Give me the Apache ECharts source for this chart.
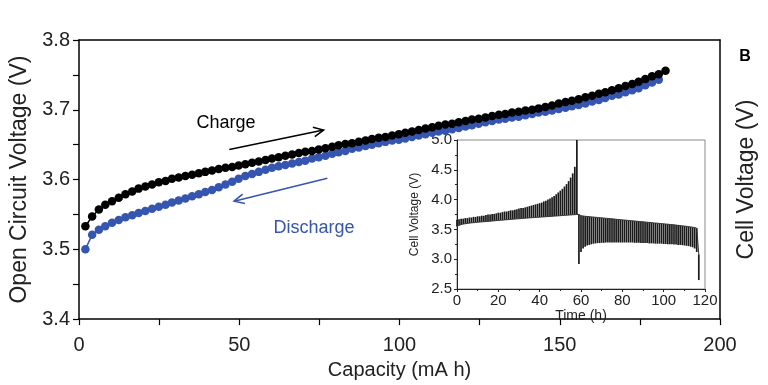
<!DOCTYPE html>
<html><head><meta charset="utf-8">
<script src="https://cdn.jsdelivr.net/npm/echarts@6/dist/echarts.min.js"></script>
<style>html,body{margin:0;padding:0;background:#fff}#c{width:768px;height:385px}</style>
</head><body><div id="c"></div>
<script>
// ---- main plot data ----
const capacity = [2.0,4.1,6.2,8.2,10.3,12.4,14.5,16.6,18.6,20.7,22.8,24.9,27.0,29.0,31.1,33.2,35.3,37.4,39.4,41.5,43.6,45.7,47.8,49.8,51.9,54.0,56.1,58.2,60.2,62.3,64.4,66.5,68.6,70.6,72.7,74.8,76.9,79.0,81.0,83.1,85.2,87.3,89.4,91.4,93.5,95.6,97.7,99.8,101.8,103.9,106.0,108.1,110.2,112.2,114.3,116.4,118.5,120.6,122.6,124.7,126.8,128.9,131.0,133.0,135.1,137.2,139.3,141.4,143.4,145.5,147.6,149.7,151.8,153.8,155.9,158.0,160.1,162.2,164.2,166.3,168.4,170.5,172.6,174.6,176.7,178.8,180.9,183.0];
const ocvCharge = [3.533,3.547,3.557,3.564,3.569,3.574,3.579,3.583,3.587,3.590,3.593,3.596,3.598,3.601,3.603,3.605,3.607,3.609,3.611,3.613,3.615,3.617,3.618,3.620,3.622,3.624,3.626,3.628,3.630,3.632,3.634,3.636,3.638,3.640,3.641,3.643,3.645,3.647,3.649,3.651,3.652,3.654,3.656,3.658,3.660,3.661,3.663,3.665,3.667,3.669,3.671,3.673,3.675,3.677,3.679,3.680,3.682,3.684,3.686,3.687,3.689,3.691,3.693,3.694,3.696,3.697,3.699,3.700,3.702,3.704,3.706,3.709,3.711,3.713,3.715,3.718,3.720,3.723,3.725,3.728,3.731,3.734,3.737,3.740,3.744,3.748,3.751,3.756];
const ocvDischarge = [3.500,3.521,3.528,3.533,3.538,3.542,3.546,3.549,3.552,3.555,3.558,3.561,3.564,3.567,3.570,3.573,3.576,3.579,3.582,3.585,3.589,3.593,3.597,3.601,3.605,3.608,3.611,3.614,3.617,3.619,3.621,3.623,3.625,3.627,3.630,3.632,3.634,3.637,3.639,3.641,3.644,3.646,3.648,3.650,3.652,3.654,3.656,3.657,3.659,3.661,3.663,3.665,3.667,3.669,3.670,3.672,3.674,3.676,3.678,3.680,3.682,3.684,3.686,3.687,3.689,3.690,3.692,3.694,3.696,3.697,3.699,3.701,3.703,3.705,3.707,3.709,3.712,3.714,3.717,3.720,3.722,3.725,3.728,3.731,3.735,3.739,3.743];
// annotation arrows (data coords: capacity, voltage)
const chargeArrow = [[46.9,3.643],[76.3,3.671]];
const dischargeArrow = [[77.5,3.602],[48.4,3.569]];

// ---- inset data (GITT trace) ----
const inTime = [0,1,2,3,4,5,6,7,8,9,10,11,12,13,14,15,16,17,18,19,20,21,22,23,24,25,26,27,28,29,30,31,32,33,34,35,36,37,38,39,40,41,42,43,44,45,46,47,48,49,50,51,52,53,54,55,56,57,58,59,60,61,62,63,64,65,66,67,68,69,70,71,72,73,74,75,76,77,78,79,80,81,82,83,84,85,86,87,88,89,90,91,92,93,94,95,96,97,98,99,100,101,102,103,104,105,106,107,108,109,110,111,112,113,114,115,116,117];
const inLow = [3.55,3.57,3.58,3.59,3.595,3.60,3.605,3.61,3.613,3.616,3.62,3.623,3.626,3.629,3.632,3.635,3.638,3.641,3.644,3.647,3.65,3.653,3.656,3.659,3.662,3.665,3.668,3.671,3.674,3.677,3.68,3.682,3.685,3.688,3.69,3.693,3.696,3.698,3.70,3.703,3.705,3.708,3.71,3.713,3.715,3.718,3.72,3.723,3.725,3.728,3.73,3.733,3.735,3.738,3.74,3.743,3.745,3.748,3.75,
  2.92,3.12,3.18,3.21,3.23,3.24,3.25,3.26,3.265,3.27,3.27,3.275,3.275,3.28,3.28,3.28,3.28,3.28,3.28,3.28,3.28,3.28,3.28,3.28,3.28,3.28,3.28,3.275,3.275,3.275,3.27,3.27,3.27,3.27,3.265,3.265,3.265,3.26,3.26,3.26,3.26,3.255,3.255,3.25,3.25,3.25,3.245,3.245,3.24,3.24,3.235,3.23,3.225,3.22,3.21,3.20,3.18,3.12,2.65];
const inHigh = [3.66,3.67,3.68,3.68,3.69,3.69,3.70,3.70,3.71,3.71,3.72,3.72,3.73,3.73,3.74,3.75,3.75,3.76,3.76,3.77,3.78,3.78,3.79,3.80,3.80,3.81,3.82,3.82,3.83,3.84,3.85,3.86,3.86,3.87,3.88,3.89,3.90,3.91,3.92,3.93,3.94,3.95,3.97,3.98,4.00,4.02,4.04,4.06,4.09,4.12,4.15,4.18,4.22,4.26,4.31,4.37,4.44,4.55,5.00,
  3.75,3.73,3.725,3.72,3.717,3.714,3.71,3.707,3.704,3.70,3.697,3.694,3.69,3.687,3.684,3.68,3.677,3.674,3.67,3.667,3.664,3.66,3.657,3.654,3.65,3.647,3.644,3.64,3.637,3.634,3.63,3.627,3.624,3.62,3.617,3.614,3.61,3.607,3.604,3.60,3.597,3.594,3.59,3.587,3.583,3.58,3.576,3.572,3.568,3.564,3.56,3.556,3.552,3.547,3.542,3.537,3.53,3.52,3.08];
const chargeEndTime = 58;

const FONT = "'Liberation Sans', Arial, sans-serif";
const BLUE = '#3555b0';
const chart = echarts.init(document.getElementById('c'), null, {renderer:'canvas'});

const blueData = ocvDischarge.map((v,i)=>[capacity[i], v]);
const blackData = ocvCharge.map((v,i)=>[capacity[i], v]);
const pulseData = inTime.map((t,i)=>[t, inLow[i], inHigh[i]]);
const baseData = inTime.map((t,i)=>[t, t<=chargeEndTime ? inLow[i] : inHigh[i]]);

const axisTxt = {color:'#222', fontFamily:FONT};
chart.setOption({
  animation:false,
  backgroundColor:'#fff',
  grid:[
    {left:79, right:48, top:40, bottom:58},
    {left:457, top:140, width:248, height:149, show:true, backgroundColor:'#fff', borderColor:'#8a8a8a', borderWidth:1}
  ],
  xAxis:[
    {gridIndex:0, type:'value', min:0, max:200, interval:50,
     axisLine:{onZero:false, lineStyle:{color:'#000', width:1.5}},
     axisTick:{show:true, inside:false, length:6, lineStyle:{color:'#000', width:1.2}},
     minorTick:{show:true, splitNumber:2, length:6, lineStyle:{color:'#000', width:1.2}},
     splitLine:{show:false},
     axisLabel:Object.assign({fontSize:20, margin:16}, axisTxt),
     name:'Capacity (mA h)', nameLocation:'middle', nameGap:40,
     nameTextStyle:Object.assign({fontSize:20}, axisTxt)},
    {gridIndex:0, type:'value', position:'top', min:0, max:200,
     axisLine:{onZero:false, lineStyle:{color:'#000', width:1.5}},
     axisTick:{show:false}, axisLabel:{show:false}, splitLine:{show:false}},
    {gridIndex:1, type:'value', min:0, max:120, interval:20,
     axisLine:{onZero:false, lineStyle:{color:'#222', width:1}},
     axisTick:{show:true, length:3, lineStyle:{color:'#222'}},
     minorTick:{show:true, splitNumber:2, length:2, lineStyle:{color:'#222'}},
     splitLine:{show:false},
     axisLabel:Object.assign({fontSize:15, margin:4}, axisTxt),
     name:'Time (h)', nameLocation:'middle', nameGap:19,
     nameTextStyle:Object.assign({fontSize:14}, axisTxt)}
  ],
  yAxis:[
    {gridIndex:0, type:'value', min:3.4, max:3.8, interval:0.1,
     axisLine:{onZero:false, lineStyle:{color:'#000', width:1.5}},
     axisTick:{show:true, length:6, lineStyle:{color:'#000', width:1.2}},
     minorTick:{show:true, splitNumber:2, length:6, lineStyle:{color:'#000', width:1.2}},
     splitLine:{show:false},
     axisLabel:Object.assign({fontSize:20, margin:9, formatter:v=>v.toFixed(1)}, axisTxt),
     name:'Open Circuit Voltage (V)', nameLocation:'middle', nameGap:46, nameRotate:90,
     nameTextStyle:Object.assign({fontSize:23}, axisTxt)},
    {gridIndex:0, type:'value', position:'right', min:3.4, max:3.8,
     axisLine:{onZero:false, lineStyle:{color:'#000', width:1.5}},
     axisTick:{show:false}, axisLabel:{show:false}, splitLine:{show:false},
     name:'Cell Voltage (V)', nameLocation:'middle', nameGap:15, nameRotate:90,
     nameTextStyle:Object.assign({fontSize:23}, axisTxt)},
    {gridIndex:1, type:'value', min:2.5, max:5.0, interval:0.5,
     axisLine:{onZero:false, lineStyle:{color:'#222', width:1}},
     axisTick:{show:true, length:3, lineStyle:{color:'#222'}},
     minorTick:{show:true, splitNumber:2, length:2, lineStyle:{color:'#222'}},
     splitLine:{show:false},
     axisLabel:Object.assign({fontSize:15, margin:5, formatter:v=>v.toFixed(1)}, axisTxt),
     name:'Cell Voltage (V)', nameLocation:'middle', nameGap:36, nameRotate:90,
     nameTextStyle:Object.assign({fontSize:12}, axisTxt)}
  ],
  series:[
    {type:'line', xAxisIndex:0, yAxisIndex:0, data:blueData, symbol:'circle', symbolSize:8.5,
     itemStyle:{color:BLUE}, lineStyle:{color:BLUE, width:1.5}, z:3},
    {type:'line', xAxisIndex:0, yAxisIndex:0, data:blackData, symbol:'circle', symbolSize:8.5,
     itemStyle:{color:'#000'}, lineStyle:{color:'#000', width:1.5}, z:4},
    {type:'custom', xAxisIndex:2, yAxisIndex:2, data:pulseData, encode:{x:0, y:[1,2]},
     renderItem:(params, api)=>{
       const t = api.value(0);
       const p1 = api.coord([t, api.value(1)]);
       const p2 = api.coord([t, api.value(2)]);
       return {type:'line', shape:{x1:p1[0], y1:p1[1], x2:p2[0], y2:p2[1]},
               style:{stroke:'#1a1a1a', lineWidth:1.7}};
     }, z:5},
    {type:'line', xAxisIndex:2, yAxisIndex:2, data:baseData, symbol:'none',
     lineStyle:{color:'#333', width:1}, z:5}
  ]
});

function px(p){ return chart.convertToPixel({gridIndex:0}, p); }
function arrow(pts, color){
  const a = px(pts[0]), b = px(pts[1]);
  const ang = Math.atan2(b[1]-a[1], b[0]-a[0]);
  const L = 11, w = 0.45;
  const h1 = [b[0]-L*Math.cos(ang-w), b[1]-L*Math.sin(ang-w)];
  const h2 = [b[0]-L*Math.cos(ang+w), b[1]-L*Math.sin(ang+w)];
  return [
    {type:'line', shape:{x1:a[0], y1:a[1], x2:b[0], y2:b[1]}, style:{stroke:color, lineWidth:1.6}, z:10},
    {type:'polyline', shape:{points:[h1, b, h2]}, style:{stroke:color, lineWidth:1.6, fill:null}, z:10}
  ];
}
chart.setOption({graphic:[
  ...arrow(chargeArrow, '#000'),
  ...arrow(dischargeArrow, BLUE),
  {type:'text', x:226, y:123, style:{text:'Charge', fill:'#000', font:'18px '+FONT, align:'center', verticalAlign:'middle'}, z:10},
  {type:'text', x:314, y:228, style:{text:'Discharge', fill:BLUE, font:'18px '+FONT, align:'center', verticalAlign:'middle'}, z:10},
  {type:'text', x:745, y:57, style:{text:'B', fill:'#000', font:'bold 16px '+FONT, align:'center', verticalAlign:'middle'}, z:10}
]});
</script></body></html>
